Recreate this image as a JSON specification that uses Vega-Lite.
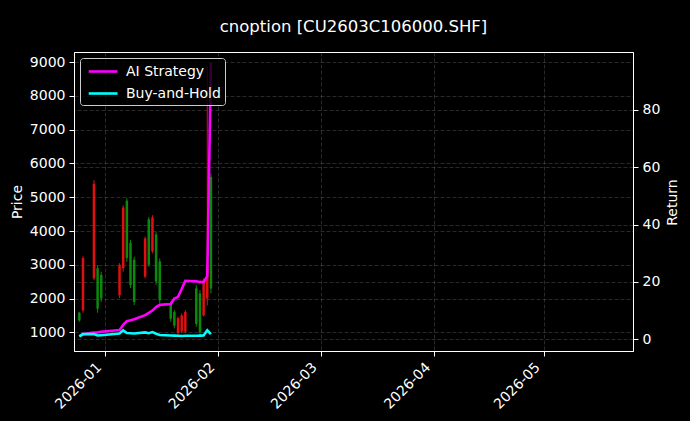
{
  "$schema": "https://vega.github.io/schema/vega-lite/v6.json",
  "width": 559,
  "height": 299,
  "autosize": {"type": "none"},
  "padding": {"left": 74, "top": 52, "right": 57, "bottom": 70},
  "background": "black",
  "title": {
    "text": "cnoption [CU2603C106000.SHF]",
    "color": "white",
    "font": "DejaVu Sans",
    "fontSize": 16.5,
    "fontWeight": "normal",
    "anchor": "middle",
    "offset": 17
  },
  "config": {
    "font": "DejaVu Sans",
    "view": {"stroke": "white", "strokeWidth": 1, "fill": "black"},
    "axis": {
      "labelColor": "white",
      "titleColor": "white",
      "tickColor": "white",
      "domainColor": "white",
      "labelFont": "DejaVu Sans",
      "titleFont": "DejaVu Sans",
      "labelFontSize": 14,
      "titleFontSize": 14,
      "titleFontWeight": "normal",
      "tickSize": 5,
      "labelPadding": 4,
      "labelOverlap": false,
      "gridColor": "#8a8a8a",
      "gridDash": [4, 2],
      "gridOpacity": 0.5,
      "gridWidth": 0.6
    }
  },
  "datasets": {
    "candles": [
      {"date": "2025-12-25T00:00:00", "open": 1350, "high": 1609, "low": 1314, "close": 1580},
      {"date": "2025-12-26T00:00:00", "open": 3200, "high": 3257, "low": 1580, "close": 1650},
      {"date": "2025-12-29T00:00:00", "open": 5400, "high": 5506, "low": 2547, "close": 2600},
      {"date": "2025-12-30T00:00:00", "open": 1700, "high": 2991, "low": 1580, "close": 2900},
      {"date": "2025-12-31T00:00:00", "open": 2000, "high": 2793, "low": 1905, "close": 2700},
      {"date": "2026-01-05T00:00:00", "open": 3000, "high": 3050, "low": 2015, "close": 2100},
      {"date": "2026-01-06T00:00:00", "open": 4700, "high": 4766, "low": 2793, "close": 2900},
      {"date": "2026-01-07T00:00:00", "open": 3200, "high": 4973, "low": 3089, "close": 4900},
      {"date": "2026-01-08T00:00:00", "open": 2400, "high": 3731, "low": 2311, "close": 3650},
      {"date": "2026-01-09T00:00:00", "open": 1900, "high": 3237, "low": 1808, "close": 3150},
      {"date": "2026-01-12T00:00:00", "open": 3780, "high": 3830, "low": 2598, "close": 2650},
      {"date": "2026-01-13T00:00:00", "open": 3000, "high": 4420, "low": 2941, "close": 4350},
      {"date": "2026-01-14T00:00:00", "open": 4400, "high": 4470, "low": 3337, "close": 3400},
      {"date": "2026-01-15T00:00:00", "open": 2500, "high": 3976, "low": 2399, "close": 3900},
      {"date": "2026-01-16T00:00:00", "open": 1950, "high": 3189, "low": 1858, "close": 3100},
      {"date": "2026-01-19T00:00:00", "open": 1400, "high": 1905, "low": 1314, "close": 1850},
      {"date": "2026-01-20T00:00:00", "open": 1200, "high": 1660, "low": 1118, "close": 1600},
      {"date": "2026-01-21T00:00:00", "open": 1420, "high": 1462, "low": 920, "close": 980},
      {"date": "2026-01-22T00:00:00", "open": 1500, "high": 1562, "low": 970, "close": 1020},
      {"date": "2026-01-23T00:00:00", "open": 1600, "high": 1660, "low": 970, "close": 1020},
      {"date": "2026-01-26T00:00:00", "open": 1250, "high": 2399, "low": 1166, "close": 2300},
      {"date": "2026-01-27T00:00:00", "open": 1000, "high": 2251, "low": 920, "close": 2150},
      {"date": "2026-01-28T00:00:00", "open": 2540, "high": 2600, "low": 1468, "close": 1500},
      {"date": "2026-01-29T00:00:00", "open": 3000, "high": 8900, "low": 1800, "close": 2000},
      {"date": "2026-01-30T00:00:00", "open": 2300, "high": 5713, "low": 2150, "close": 5600}
    ],
    "returns": [
      {"date": "2025-12-25T00:00:00", "series": "AI Strategy", "value": 1.0},
      {"date": "2025-12-26T00:00:00", "series": "AI Strategy", "value": 1.8},
      {"date": "2025-12-29T00:00:00", "series": "AI Strategy", "value": 2.3},
      {"date": "2025-12-30T00:00:00", "series": "AI Strategy", "value": 2.4},
      {"date": "2025-12-31T00:00:00", "series": "AI Strategy", "value": 2.6},
      {"date": "2026-01-05T00:00:00", "series": "AI Strategy", "value": 3.2},
      {"date": "2026-01-06T00:00:00", "series": "AI Strategy", "value": 5.0},
      {"date": "2026-01-07T00:00:00", "series": "AI Strategy", "value": 6.3},
      {"date": "2026-01-08T00:00:00", "series": "AI Strategy", "value": 6.6},
      {"date": "2026-01-09T00:00:00", "series": "AI Strategy", "value": 7.0},
      {"date": "2026-01-12T00:00:00", "series": "AI Strategy", "value": 8.4},
      {"date": "2026-01-13T00:00:00", "series": "AI Strategy", "value": 9.2},
      {"date": "2026-01-14T00:00:00", "series": "AI Strategy", "value": 10.0},
      {"date": "2026-01-15T00:00:00", "series": "AI Strategy", "value": 11.2},
      {"date": "2026-01-16T00:00:00", "series": "AI Strategy", "value": 12.0},
      {"date": "2026-01-19T00:00:00", "series": "AI Strategy", "value": 12.3},
      {"date": "2026-01-20T00:00:00", "series": "AI Strategy", "value": 14.2},
      {"date": "2026-01-21T00:00:00", "series": "AI Strategy", "value": 14.8},
      {"date": "2026-01-22T00:00:00", "series": "AI Strategy", "value": 17.5},
      {"date": "2026-01-23T00:00:00", "series": "AI Strategy", "value": 20.4},
      {"date": "2026-01-26T00:00:00", "series": "AI Strategy", "value": 20.2},
      {"date": "2026-01-27T00:00:00", "series": "AI Strategy", "value": 20.0},
      {"date": "2026-01-28T00:00:00", "series": "AI Strategy", "value": 19.9},
      {"date": "2026-01-29T00:00:00", "series": "AI Strategy", "value": 22.0},
      {"date": "2026-01-30T00:00:00", "series": "AI Strategy", "value": 96.5},
      {"date": "2025-12-25T00:00:00", "series": "Buy-and-Hold", "value": 1.0},
      {"date": "2025-12-26T00:00:00", "series": "Buy-and-Hold", "value": 1.8},
      {"date": "2025-12-29T00:00:00", "series": "Buy-and-Hold", "value": 1.8},
      {"date": "2025-12-30T00:00:00", "series": "Buy-and-Hold", "value": 1.3},
      {"date": "2025-12-31T00:00:00", "series": "Buy-and-Hold", "value": 1.4},
      {"date": "2026-01-05T00:00:00", "series": "Buy-and-Hold", "value": 2.0},
      {"date": "2026-01-06T00:00:00", "series": "Buy-and-Hold", "value": 3.1},
      {"date": "2026-01-07T00:00:00", "series": "Buy-and-Hold", "value": 2.2},
      {"date": "2026-01-08T00:00:00", "series": "Buy-and-Hold", "value": 2.1},
      {"date": "2026-01-09T00:00:00", "series": "Buy-and-Hold", "value": 2.0},
      {"date": "2026-01-12T00:00:00", "series": "Buy-and-Hold", "value": 2.4},
      {"date": "2026-01-13T00:00:00", "series": "Buy-and-Hold", "value": 2.1},
      {"date": "2026-01-14T00:00:00", "series": "Buy-and-Hold", "value": 2.5},
      {"date": "2026-01-15T00:00:00", "series": "Buy-and-Hold", "value": 1.9},
      {"date": "2026-01-16T00:00:00", "series": "Buy-and-Hold", "value": 1.5},
      {"date": "2026-01-19T00:00:00", "series": "Buy-and-Hold", "value": 1.3},
      {"date": "2026-01-20T00:00:00", "series": "Buy-and-Hold", "value": 1.25},
      {"date": "2026-01-21T00:00:00", "series": "Buy-and-Hold", "value": 1.2},
      {"date": "2026-01-22T00:00:00", "series": "Buy-and-Hold", "value": 1.15},
      {"date": "2026-01-23T00:00:00", "series": "Buy-and-Hold", "value": 1.2},
      {"date": "2026-01-26T00:00:00", "series": "Buy-and-Hold", "value": 1.2},
      {"date": "2026-01-27T00:00:00", "series": "Buy-and-Hold", "value": 1.25},
      {"date": "2026-01-28T00:00:00", "series": "Buy-and-Hold", "value": 1.3},
      {"date": "2026-01-29T00:00:00", "series": "Buy-and-Hold", "value": 3.1},
      {"date": "2026-01-30T00:00:00", "series": "Buy-and-Hold", "value": 1.75}
    ]
  },
  "layer": [
    {
      "data": {"name": "candles"},
      "encoding": {
        "x": {
          "field": "date",
          "type": "temporal",
          "title": null,
          "scale": {"domain": ["2025-12-24T21:50:00", "2026-05-24T02:20:00"]},
          "axis": {
            "values": [
              {"year": 2026, "month": 1, "date": 1},
              {"year": 2026, "month": 2, "date": 1},
              {"year": 2026, "month": 3, "date": 1},
              {"year": 2026, "month": 4, "date": 1},
              {"year": 2026, "month": 5, "date": 1}
            ],
            "format": "%Y-%m",
            "labelAngle": -45,
            "labelAlign": "right",
            "labelBaseline": "top",
            "labelOffset": -11,
            "grid": true
          }
        },
        "color": {
          "condition": {"test": "datum.close >= datum.open", "value": "#0a8a0a"},
          "value": "#e01010"
        }
      },
      "layer": [
        {
          "mark": {"type": "rule", "strokeWidth": 1},
          "encoding": {
            "y": {
              "field": "low",
              "type": "quantitative",
              "title": "Price",
              "scale": {"domain": [447, 9302], "nice": false, "zero": false},
              "axis": {
                "orient": "left",
                "values": [1000, 2000, 3000, 4000, 5000, 6000, 7000, 8000, 9000],
                "format": "d",
                "labelOverlap": false,
                "grid": true,
                "titlePadding": 5
              }
            },
            "y2": {"field": "high"}
          }
        },
        {
          "mark": {"type": "bar", "width": 2.5},
          "encoding": {
            "y": {
              "field": "open",
              "type": "quantitative",
              "title": "Price",
              "axis": {
                "orient": "left",
                "values": [1000, 2000, 3000, 4000, 5000, 6000, 7000, 8000, 9000],
                "format": "d",
                "labelOverlap": false,
                "grid": true,
                "titlePadding": 5
              }
            },
            "y2": {"field": "close"}
          }
        }
      ]
    },
    {
      "data": {"name": "returns"},
      "mark": {"type": "line", "strokeWidth": 2.6},
      "encoding": {
        "x": {
          "field": "date",
          "type": "temporal",
          "scale": {"domain": ["2025-12-24T21:50:00", "2026-05-24T02:20:00"]}
        },
        "y": {
          "field": "value",
          "type": "quantitative",
          "title": "Return",
          "scale": {"domain": [-4.1, 100.2], "nice": false, "zero": false},
          "axis": {
            "orient": "right",
            "values": [0, 20, 40, 60, 80],
            "grid": true,
            "titleAngle": 270,
            "titleX": 39,
            "titleY": 150,
            "titleAlign": "center",
            "titleBaseline": "middle"
          }
        },
        "color": {
          "field": "series",
          "type": "nominal",
          "scale": {"domain": ["AI Strategy", "Buy-and-Hold"], "range": ["#ff00ff", "#00ffff"]},
          "legend": {
            "orient": "top-left",
            "offset": 6,
            "title": null,
            "fillColor": "rgba(0,0,0,0.8)",
            "strokeColor": "#cccccc",
            "cornerRadius": 3,
            "padding": 4,
            "labelColor": "white",
            "labelFontSize": 14,
            "labelFont": "DejaVu Sans",
            "labelOffset": 23,
            "symbolType": "M-0.6,0H3",
            "symbolStrokeWidth": 2.6,
            "symbolSize": 256,
            "rowPadding": 5
          }
        }
      }
    }
  ],
  "resolve": {"scale": {"y": "independent"}}
}
